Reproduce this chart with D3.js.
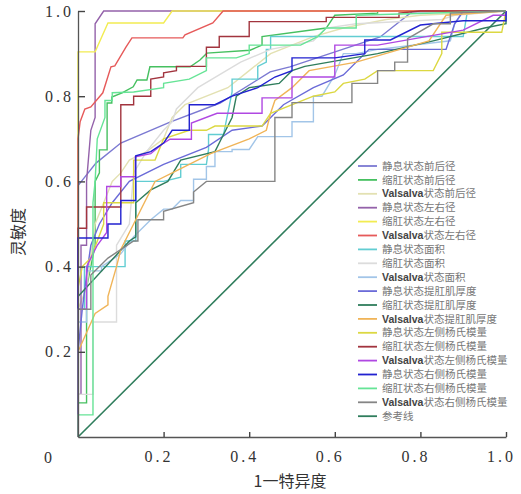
<!DOCTYPE html>
<html>
<head>
<meta charset="utf-8">
<script src="https://cdn.jsdelivr.net/npm/d3@7"></script>
<style>
  body { margin: 0; background: #fff; }
  svg { display: block; }
</style>
</head>
<body>
<svg id="chart" width="521" height="494"></svg>
<script>
// series names, in legend order
const names = [
  "静息状态前后径", "缩肛状态前后径", "Valsalva状态前后径",
  "静息状态左右径", "缩肛状态左右径", "Valsalva状态左右径",
  "静息状态面积", "缩肛状态面积", "Valsalva状态面积",
  "静息状态提肛肌厚度", "缩肛状态提肛肌厚度", "Valsalva状态提肛肌厚度",
  "静息状态左侧杨氏模量", "缩肛状态左侧杨氏模量", "Valsalva状态左侧杨氏模量",
  "静息状态右侧杨氏模量", "缩肛状态右侧杨氏模量", "Valsalva状态右侧杨氏模量"
];
const refName = "参考线";

const xTicks = [0.2, 0.4, 0.6, 0.8, 1.0];
const yTicks = [0.2, 0.4, 0.6, 0.8, 1.0];

// ROC points [1-specificity, sensitivity]
const restAP = [[0,0],[0,0.59],[0.042,0.643],[0.1,0.69],[0.215,0.739],[0.332,0.784],[0.449,0.857],[0.495,0.869],[0.706,0.939],[0.78,0.998],[1,1]];
const squeezeAP = [[0,0],[0,0.08],[0.02,0.08],[0.02,0.35],[0.04,0.45],[0.04,0.6],[0.05,0.62],[0.05,0.674],[0.068,0.674],[0.068,0.784],[0.079,0.784],[0.079,0.798],[0.103,0.808],[0.129,0.822],[0.138,0.838],[0.161,0.838],[0.168,0.869],[0.262,0.869],[0.285,0.885],[0.301,0.901],[0.402,0.908],[0.43,0.92],[0.43,0.94],[0.58,0.96],[0.6,0.99],[0.7,0.995],[0.7,1],[1,1]];
const valsAP = [[0,0],[0,0.3],[0.02,0.35],[0.04,0.5],[0.06,0.55],[0.08,0.6],[0.1,0.62],[0.12,0.65],[0.16,0.67],[0.2,0.7],[0.22,0.75],[0.25,0.78],[0.35,0.82],[0.4,0.86],[0.45,0.9],[0.55,0.94],[0.62,0.96],[0.72,0.98],[0.8,0.99],[1,1]];
const restLR = [[0,0],[0,0.1],[0.007,0.1],[0.007,0.45],[0.02,0.45],[0.02,0.6],[0.03,0.72],[0.04,0.75],[0.04,0.97],[0.06,1],[1,1]];
const squeezeLR = [[0,0],[0,0.904],[0.04,0.904],[0.07,0.972],[0.2,0.972],[0.22,1],[1,1]];
const valsLR = [[0,0],[0,0.7],[0.005,0.74],[0.016,0.77],[0.03,0.775],[0.058,0.808],[0.077,0.869],[0.086,0.871],[0.112,0.915],[0.126,0.937],[0.245,0.937],[0.25,0.944],[0.315,0.972],[0.339,1],[1,1]];
const restArea = [[0,0],[0,0.3],[0.015,0.3],[0.015,0.4],[0.11,0.4],[0.11,0.46],[0.135,0.46],[0.135,0.6],[0.2,0.6],[0.24,0.61],[0.24,0.64],[0.3,0.64],[0.305,0.675],[0.305,0.71],[0.34,0.71],[0.36,0.81],[0.36,0.84],[0.42,0.84],[0.42,0.87],[0.44,0.88],[0.44,0.91],[0.45,0.91],[0.45,0.94],[0.9,0.94],[0.91,1],[1,1]];
const squeezeArea = [[0,0],[0,0.1],[0.035,0.1],[0.035,0.27],[0.09,0.27],[0.09,0.45],[0.12,0.5],[0.13,0.62],[0.16,0.67],[0.2,0.72],[0.22,0.74],[0.23,0.77],[0.28,0.82],[0.33,0.85],[0.38,0.88],[0.45,0.91],[0.55,0.93],[0.58,0.96],[0.65,0.97],[0.85,0.98],[0.88,0.99],[1,1]];
const valsArea = [[0,0],[0,0.27],[0.02,0.27],[0.02,0.39],[0.055,0.39],[0.055,0.4],[0.1,0.43],[0.13,0.47],[0.17,0.51],[0.2,0.535],[0.22,0.535],[0.24,0.555],[0.27,0.555],[0.27,0.605],[0.3,0.605],[0.3,0.635],[0.32,0.635],[0.32,0.67],[0.36,0.67],[0.36,0.675],[0.4,0.675],[0.42,0.705],[0.5,0.705],[0.5,0.74],[0.55,0.74],[0.55,0.8],[0.57,0.8],[0.6,0.85],[0.62,0.9],[0.65,0.9],[0.7,0.91],[0.87,0.93],[0.88,0.97],[0.9,1],[1,1]];
const restLAM = [[0,0],[0,0.2],[0.01,0.3],[0.02,0.38],[0.03,0.45],[0.05,0.5],[0.08,0.55],[0.12,0.6],[0.2,0.64],[0.3,0.68],[0.36,0.72],[0.43,0.73],[0.48,0.78],[0.55,0.82],[0.62,0.85],[0.68,0.91],[0.86,0.91],[0.88,0.97],[0.9,1],[1,1]];
const squeezeLAM = [[0,0],[0,0.33],[0.12,0.46],[0.135,0.47],[0.135,0.55],[0.17,0.58],[0.21,0.6],[0.24,0.65],[0.32,0.67],[0.33,0.69],[0.36,0.75],[0.37,0.8],[0.4,0.82],[0.47,0.83],[0.5,0.86],[0.53,0.87],[0.7,0.9],[0.83,0.93],[0.95,0.96],[1,0.97],[1,1]];
const valsLAM = [[0,0],[0,0.2],[0.04,0.29],[0.07,0.31],[0.07,0.33],[0.09,0.4],[0.1,0.44],[0.13,0.5],[0.18,0.6],[0.24,0.63],[0.31,0.665],[0.4,0.7],[0.44,0.72],[0.45,0.76],[0.46,0.79],[0.5,0.82],[0.54,0.86],[0.65,0.88],[0.82,0.93],[0.86,0.99],[1,1]];
const restLeftE = [[0,0],[0,0.35],[0.01,0.4],[0.03,0.42],[0.06,0.5],[0.06,0.55],[0.13,0.55],[0.13,0.65],[0.18,0.65],[0.2,0.7],[0.26,0.72],[0.3,0.72],[0.32,0.73],[0.43,0.73],[0.45,0.76],[0.55,0.8],[0.6,0.81],[0.62,0.83],[0.67,0.84],[0.7,0.86],[0.83,0.86],[0.85,0.9],[0.85,0.95],[0.99,0.95],[1,1]];
const squeezeLeftE = [[0,0],[0,0.49],[0.02,0.49],[0.02,0.54],[0.1,0.54],[0.1,0.78],[0.13,0.78],[0.13,0.8],[0.17,0.8],[0.17,0.84],[0.2,0.845],[0.2,0.855],[0.23,0.86],[0.23,0.87],[0.3,0.87],[0.3,0.915],[0.33,0.915],[0.33,0.94],[0.4,0.94],[0.4,0.975],[0.58,0.975],[0.58,0.985],[0.75,0.985],[0.75,0.995],[0.8,1],[1,1]];
const valsLeftE = [[0,0],[0,0.3],[0.02,0.3],[0.02,0.4],[0.045,0.45],[0.067,0.48],[0.067,0.588],[0.1,0.588],[0.1,0.611],[0.134,0.611],[0.134,0.658],[0.17,0.665],[0.2,0.69],[0.215,0.699],[0.265,0.699],[0.265,0.737],[0.325,0.76],[0.43,0.76],[0.43,0.796],[0.5,0.796],[0.5,0.845],[0.6,0.845],[0.6,0.92],[0.7,0.92],[0.9,0.955],[0.97,0.99],[1,0.99],[1,1]];
const restRightE = [[0,0],[0,0.467],[0.07,0.467],[0.07,0.5],[0.1,0.5],[0.1,0.555],[0.135,0.555],[0.135,0.66],[0.17,0.67],[0.2,0.69],[0.22,0.72],[0.26,0.72],[0.26,0.78],[0.32,0.78],[0.36,0.8],[0.42,0.82],[0.46,0.845],[0.5,0.86],[0.5,0.89],[0.6,0.89],[0.67,0.9],[0.67,0.932],[0.73,0.932],[0.8,0.967],[0.9,0.977],[1,0.977],[1,1]];
const squeezeRightE = [[0,0],[0,0.052],[0.035,0.052],[0.035,0.55],[0.04,0.6],[0.045,0.7],[0.063,0.75],[0.063,0.79],[0.08,0.79],[0.08,0.808],[0.13,0.81],[0.2,0.82],[0.2,0.83],[0.26,0.84],[0.3,0.86],[0.3,0.89],[0.37,0.89],[0.4,0.9],[0.4,0.92],[0.52,0.92],[0.56,0.94],[0.58,0.96],[0.65,0.96],[0.65,0.99],[1,1]];
const valsRightE = [[0,0],[0,0.3],[0.03,0.3],[0.03,0.38],[0.07,0.42],[0.13,0.46],[0.14,0.46],[0.14,0.51],[0.2,0.51],[0.2,0.53],[0.27,0.55],[0.27,0.575],[0.3,0.6],[0.46,0.6],[0.46,0.75],[0.5,0.75],[0.5,0.785],[0.64,0.785],[0.64,0.83],[0.7,0.83],[0.7,0.86],[0.74,0.86],[0.74,0.88],[0.77,0.88],[0.77,0.935],[0.83,0.97],[0.87,0.97],[0.87,0.995],[1,1]];
const reference = [[0,0],[1,1]];

const seriesData = [restAP, squeezeAP, valsAP, restLR, squeezeLR, valsLR,
  restArea, squeezeArea, valsArea, restLAM, squeezeLAM, valsLAM,
  restLeftE, squeezeLeftE, valsLeftE, restRightE, squeezeRightE, valsRightE];

const palette = ["#7b79d2", "#46c060", "#e3e1b2", "#9462aa", "#f2ec52", "#e65a5a",
  "#62cdd2", "#dcdcdc", "#a2c5e8", "#6b6bd8", "#2f7d5c", "#f0b458",
  "#dcd842", "#a2343e", "#b048e2", "#2222d0", "#66e496", "#858585"];
const refColor = "#2f7d5c";

const svg = d3.select("#chart");
const x = d3.scaleLinear().domain([0, 1]).range([78, 506]);
const y = d3.scaleLinear().domain([0, 1]).range([437, 11]);

const line = d3.line()
  .x(d => x(d[0]))
  .y(d => y(d[1]));

// reference diagonal
svg.append("path")
  .datum(reference)
  .attr("d", line)
  .attr("fill", "none")
  .attr("stroke", refColor)
  .attr("stroke-width", 1.6);

// ROC curves
svg.selectAll(".roc")
  .data(seriesData)
  .enter()
  .append("path")
  .attr("class", "roc")
  .attr("d", line)
  .attr("fill", "none")
  .attr("stroke", (d, i) => palette[i])
  .attr("stroke-width", 1.4)
  .attr("stroke-linejoin", "miter");

// axes
const numFont = "'Liberation Serif', 'DejaVu Serif', serif";

const xAxis = svg.append("g")
  .attr("transform", "translate(0,437)")
  .call(d3.axisBottom(x).tickValues(xTicks).tickSizeInner(-5).tickSizeOuter(0)
    .tickPadding(14).tickFormat(d3.format(".1f")));

const yAxis = svg.append("g")
  .attr("transform", "translate(78,0)")
  .call(d3.axisLeft(y).tickValues(yTicks).tickSizeInner(-7).tickSizeOuter(0)
    .tickPadding(4).tickFormat(d3.format(".1f")));

[xAxis, yAxis].forEach(g => {
  g.select(".domain").attr("stroke", "#555").attr("stroke-width", 1.3);
  g.selectAll(".tick line").attr("stroke", "#444").attr("stroke-width", 1.4);
  g.selectAll(".tick text")
    .attr("fill", "#333")
    .style("font-family", numFont)
    .style("font-size", "16px")
    .style("letter-spacing", "3px");
});
xAxis.selectAll(".tick text").attr("dx", "-5px");

// origin label
svg.append("text")
  .attr("x", 48).attr("y", 463)
  .attr("text-anchor", "middle")
  .attr("fill", "#333")
  .style("font-family", numFont)
  .style("font-size", "16px")
  .text("0");

// axis titles
const cjkFont = "'Noto Sans CJK SC', sans-serif";
svg.append("text")
  .attr("x", 290).attr("y", 487)
  .attr("text-anchor", "middle")
  .attr("fill", "#333")
  .style("font-family", cjkFont)
  .style("font-size", "16px")
  .text("1一特异度");

svg.append("text")
  .attr("transform", "translate(24,232) rotate(-90)")
  .attr("text-anchor", "middle")
  .attr("fill", "#333")
  .style("font-family", cjkFont)
  .style("font-size", "16px")
  .text("灵敏度");

// legend
const legendItems = names.map((n, i) => ({ name: n, color: palette[i] }))
  .concat([{ name: refName, color: refColor }]);

const legend = svg.append("g").attr("transform", "translate(358,166)");
const rows = legend.selectAll(".row")
  .data(legendItems)
  .enter()
  .append("g")
  .attr("class", "row")
  .attr("transform", (d, i) => "translate(0," + (i * 13.9) + ")");

rows.append("line")
  .attr("x1", 0).attr("x2", 19)
  .attr("stroke", d => d.color)
  .attr("stroke-width", 1.8);

const label = rows.append("text")
  .attr("x", 24)
  .attr("dy", "0.35em")
  .style("font-size", "10.5px");

label.each(function(d) {
  const t = d3.select(this);
  if (d.name.startsWith("Valsalva")) {
    t.append("tspan")
      .style("font-family", "'Liberation Sans', Arial, sans-serif")
      .style("font-weight", "bold")
      .attr("fill", "#444")
      .text("Valsalva");
    t.append("tspan")
      .style("font-family", cjkFont)
      .attr("fill", "#777")
      .text(d.name.slice(8));
  } else {
    t.append("tspan")
      .style("font-family", cjkFont)
      .attr("fill", "#777")
      .text(d.name);
  }
});
</script>
</body>
</html>
